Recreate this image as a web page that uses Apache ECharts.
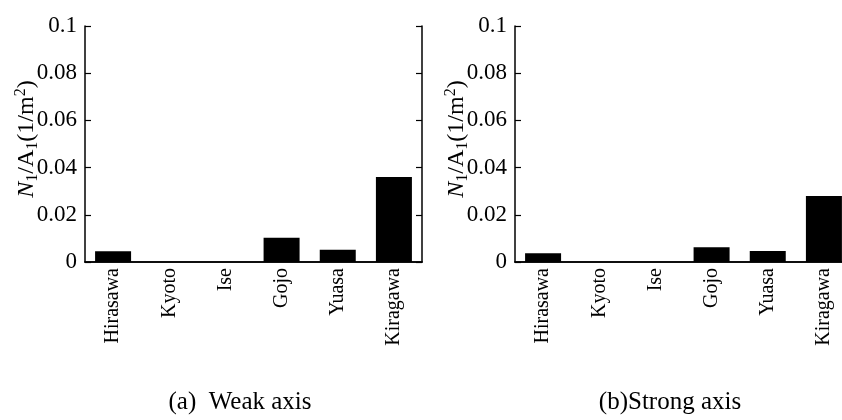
<!DOCTYPE html>
<html>
<head>
<meta charset="utf-8">
<title>N1/A1</title>
<script src="https://cdn.jsdelivr.net/npm/echarts@6/dist/echarts.min.js"></script>
<style>
    html, body { margin: 0; padding: 0; background: #fff; }
    #main { width: 842px; height: 420px; }
</style>
</head>
<body>
<div id="main"></div>
<script>
var sites = ['Hirasawa', 'Kyoto', 'Ise', 'Gojo', 'Yuasa', 'Kiragawa'];
var weakAxis = [0.0046, 0, 0, 0.0103, 0.0052, 0.036];
var strongAxis = [0.0037, 0, 0, 0.0062, 0.0047, 0.028];
var yMax = 0.1, yStep = 0.02;
var panelTitles = ['(a)  Weak axis', '(b)Strong axis'];

var font = 'Liberation Serif, Times New Roman, serif';

function bottomAxis(grid) {
    return {
        type: 'category', gridIndex: grid, data: sites, position: 'bottom',
        axisLine: { lineStyle: { color: '#000', width: 1.5 } },
        axisTick: { inside: true, length: 7, lineStyle: { color: '#000', width: 1.2 } },
        axisLabel: { rotate: 90, margin: 6, color: '#000', fontFamily: font, fontSize: 20 }
    }
}

function topAxis(grid) {
    return {
        type: 'category', gridIndex: grid, data: sites, position: 'top',
        axisLine: { lineStyle: { color: '#000', width: 1.5 } },
        axisTick: { inside: true, length: 7, lineStyle: { color: '#000', width: 1.2 } },
        axisLabel: { show: false }
    }
}

function leftAxis(grid) {
    return {
        type: 'value', gridIndex: grid, position: 'left', min: 0, max: yMax, interval: yStep,
        name: '{i|N}{s|1}/A{s|1}(1/m{p|2})',
        nameLocation: 'middle', nameGap: 44, nameMoveOverlap: false,
        nameTextStyle: {
            color: '#000', fontFamily: font, fontSize: 24, padding: [0, 0, 0, 10],
            rich: {
                i: { fontStyle: 'italic', fontFamily: font, fontSize: 24, lineHeight: 28, verticalAlign: 'middle' },
                s: { fontFamily: font, fontSize: 16, lineHeight: 16, verticalAlign: 'bottom' },
                p: { fontFamily: font, fontSize: 16, lineHeight: 16, verticalAlign: 'top' }
            }
        },
        splitLine: { show: false },
        axisLine: { show: true, lineStyle: { color: '#000', width: 1.5 } },
        axisTick: { show: true, inside: true, length: 6, lineStyle: { color: '#000', width: 1.2 } },
        axisLabel: { margin: 8, color: '#000', fontFamily: font, fontSize: 23 }
    }
}

function rightAxis(grid) {
    return {
        type: 'value', gridIndex: grid, position: 'right', min: 0, max: yMax, interval: yStep,
        splitLine: { show: false },
        axisLine: { show: true, lineStyle: { color: '#000', width: 1.5 } },
        axisTick: { show: true, inside: true, length: 6, lineStyle: { color: '#000', width: 1.2 } },
        axisLabel: { show: false }
    }
}

function barSeries(values, grid) {
    return {
        type: 'bar', data: values,
        xAxisIndex: grid * 2, yAxisIndex: grid * 2,
        barWidth: 36,
        itemStyle: { color: '#000' },
        silent: true
    }
}

var chart = echarts.init(document.getElementById('main'), null, { renderer: 'canvas' });

var option = {
    backgroundColor: '#fff',
    animation: false,
    grid: [
        { left: 85, top: 26, width: 337, height: 236, outerBoundsMode: 'none', containLabel: false },
        { left: 515, top: 26, width: 337, height: 236, outerBoundsMode: 'none', containLabel: false }
    ],
    xAxis: [bottomAxis(0), topAxis(0), bottomAxis(1), topAxis(1)],
    yAxis: [leftAxis(0), rightAxis(0), leftAxis(1), rightAxis(1)],
    series: [barSeries(weakAxis, 0), barSeries(strongAxis, 1)],
    graphic: [
        { type: 'text', x: 240, y: 402, style: { text: panelTitles[0], fill: '#000', font: '25px ' + font, textAlign: 'center', textVerticalAlign: 'middle' } },
        { type: 'text', x: 670, y: 402, style: { text: panelTitles[1], fill: '#000', font: '25px ' + font, textAlign: 'center', textVerticalAlign: 'middle' } }
    ]
};

chart.setOption(option);
</script>
</body>
</html>
